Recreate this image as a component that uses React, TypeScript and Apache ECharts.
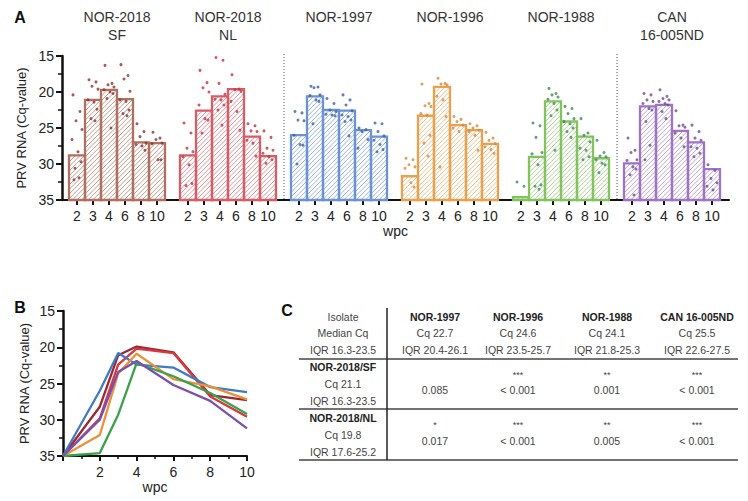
import React, { useEffect, useRef } from 'react';
import * as echarts from 'echarts';

// ---------- data ----------
const wpcLabels = ['2', '3', '4', '6', '8', '10'];
const isolateTitles = ['NOR-2018\nSF', 'NOR-2018\nNL', 'NOR-1997', 'NOR-1996', 'NOR-1988', 'CAN\n16-005ND'];

// median Cq per wpc (bars, panel A)
const barSF = [28.8, 21.1, 19.7, 21.0, 27.0, 27.1];
const barNL = [28.8, 22.6, 20.6, 19.6, 26.2, 28.9];
const bar1997 = [26.0, 20.6, 22.5, 22.6, 25.3, 26.2];
const bar1996 = [31.7, 23.3, 19.3, 24.6, 25.3, 27.2];
const bar1988 = [34.6, 29.0, 21.3, 24.1, 26.2, 29.2];
const barCAN = [29.9, 22.0, 21.8, 25.4, 27.0, 30.7];

// individual fish Cq values per wpc (dots, panel A)
const dotsSF = [
  [20.4, 22.7, 24.0, 25.2, 26.6, 28.3, 29.7, 30.6, 31.9, 32.2],
  [18.3, 18.6, 19.2, 19.6, 21.1, 21.4, 22.4, 23.7, 24.0],
  [16.3, 18.8, 19.0, 19.3, 19.7, 20.0, 20.2, 20.9, 25.0],
  [16.2, 17.7, 18.2, 19.9, 21.1, 21.3, 22.5, 23.0, 23.3],
  [24.4, 25.5, 26.2, 27.1, 27.3, 27.5, 28.1],
  [25.6, 26.4, 26.6, 27.1, 27.2, 29.4, 29.4],
];
const dotsNL = [
  [24.3, 25.7, 27.8, 28.3, 29.0, 30.1, 32.7, 33.0],
  [17.0, 18.7, 19.4, 20.0, 21.8, 23.7, 23.9, 25.7],
  [15.2, 15.6, 18.8, 20.3, 21.0, 21.1, 21.8, 22.5, 24.6],
  [17.6, 19.6, 19.7, 19.9, 21.3, 22.7, 25.3],
  [24.4, 24.7, 25.4, 25.5, 26.7, 27.1, 28.9],
  [25.4, 26.3, 27.8, 28.1, 28.5, 29.0, 29.4, 29.9],
];
const dots1997 = [
  [22.7, 22.9, 23.9, 24.0, 26.0, 27.3, 27.4, 30.0],
  [19.2, 19.3, 19.4, 20.4, 20.5, 21.1, 21.3, 24.4],
  [20.9, 21.6, 22.5, 22.7, 23.1, 23.2, 23.3],
  [20.4, 21.1, 21.8, 22.6, 23.2, 23.4, 23.9, 24.1, 26.1],
  [25.0, 25.2, 25.5, 26.6, 27.8],
  [24.3, 24.4, 25.5, 26.1, 26.7, 27.3, 28.0, 28.3],
];
const dots1996 = [
  [29.2, 29.4, 30.1, 30.4, 30.6, 32.6, 33.2],
  [18.9, 21.6, 21.9, 22.0, 23.0, 23.2, 26.0, 27.1, 28.9],
  [18.1, 18.8, 18.9, 19.0, 20.6, 21.1, 23.4, 30.4],
  [23.4, 23.8, 24.1, 24.6, 25.0, 25.5],
  [24.4, 24.7, 25.0, 25.3, 25.5, 26.0, 28.1],
  [25.6, 26.4, 26.7, 27.2, 27.6, 28.0, 28.5],
];
const dots1988 = [
  [32.5, 33.1],
  [24.3, 24.7, 26.3, 28.4, 28.6, 30.1, 32.9, 33.1, 33.5],
  [19.5, 20.2, 20.4, 20.7, 21.0, 21.6, 22.5, 23.3, 28.1],
  [22.0, 22.3, 23.0, 23.7, 24.1, 24.4, 25.0, 25.5, 26.3],
  [23.7, 25.7, 26.0, 26.9, 27.8, 28.1, 29.0, 29.4],
  [26.7, 28.4, 28.9, 29.0, 29.4, 29.9, 30.1, 31.2],
];
const dotsCAN = [
  [26.4, 28.1, 28.4, 29.4, 29.5, 30.4, 30.7, 31.5, 34.3],
  [20.2, 20.4, 21.1, 21.3, 21.6, 22.3, 22.5, 24.1, 27.4, 29.4],
  [19.7, 20.6, 20.9, 21.1, 21.3, 21.6, 21.8, 22.7, 23.7],
  [22.6, 24.6, 24.7, 24.9, 25.7, 26.4, 27.6],
  [24.6, 25.5, 26.4, 26.7, 27.6, 27.8, 28.5, 29.0],
  [30.1, 30.9, 32.0, 32.6, 33.1, 33.6],
];

// panel B lines
const wpcB = [0, 2, 3, 4, 6, 8, 10];
const lineSF = [35, 28.2, 21.1, 19.9, 20.7, 26.6, 27.3];
const lineNL = [35, 29.8, 22.4, 20.2, 20.8, 26.8, 29.6];
const line1997 = [35, 26.0, 20.8, 22.4, 22.8, 25.5, 26.2];
const line1996 = [35, 32.1, 23.6, 20.9, 24.4, 25.4, 27.2];
const line1988 = [35, 34.6, 29.3, 22.2, 24.0, 26.3, 29.2];
const lineCAN = [35, 30.0, 23.4, 21.9, 25.2, 27.4, 31.2];
const lineNames = ['NOR-2018/SF', 'NOR-2018/NL', 'NOR-1997', 'NOR-1996', 'NOR-1988', 'CAN 16-005ND'];

// panel C table
const tableHeader = ['Isolate', 'NOR-1997', 'NOR-1996', 'NOR-1988', 'CAN 16-005ND'];
const tableMedian = ['Median Cq', 'Cq 22.7', 'Cq 24.6', 'Cq 24.1', 'Cq 25.5'];
const tableIQR = ['IQR 16.3-23.5', 'IQR 20.4-26.1', 'IQR 23.5-25.7', 'IQR 21.8-25.3', 'IQR 22.6-27.5'];
const rowSF = ['NOR-2018/SF', 'Cq 21.1', 'IQR 16.3-23.5'];
const starsSF = ['', '***', '**', '***'];
const pSF = ['0.085', '< 0.001', '0.001', '< 0.001'];
const rowNL = ['NOR-2018/NL', 'Cq 19.8', 'IQR 17.6-25.2'];
const starsNL = ['*', '***', '**', '***'];
const pNL = ['0.017', '< 0.001', '0.005', '< 0.001'];

// ---------- styling ----------
const FONT = 'Arial, "Liberation Sans", Helvetica, sans-serif';
const TXT = '#222';
const barColors = ['#b0705f', '#d85c66', '#6b93d4', '#eba04d', '#82c35d', '#9f73c3'];
const hatchColors = ['#c99a8d', '#e6929a', '#9bb6e3', '#f2c18a', '#abd793', '#c2a3da'];
const dotColors = ['#8e2f2f', '#c4303c', '#3c5ea8', '#d9863a', '#3d8a50', '#6a4b9c'];
const lineColors = ['#9b2733', '#da363f', '#3d7bc4', '#ea913a', '#37a24c', '#7a4faf'];
const jitter = [-4, 3, -1, 5, -5, 1, 4, -2, 2, -3, 0];

const Y_MIN = 15;
const Y_MAX = 35;
const A_TOP = 56;
const A_H = 144;
const G_LEFT0 = 69;
const G_STEP = 111;
const G_W = 96;

const bars = [barSF, barNL, bar1997, bar1996, bar1988, barCAN];
const dots = [dotsSF, dotsNL, dots1997, dots1996, dots1988, dotsCAN];
const lines = [lineSF, lineNL, line1997, line1996, line1988, lineCAN];

function makeBarRenderer(g: number) {
  return (params: any, api: any) => {
    const idx = api.value(0);
    const v = api.value(1);
    const top = api.coord([idx, v]);
    const base = api.coord([idx, Y_MAX]);
    const bw = api.size([1, 0])[0];
    const x0 = top[0] - bw / 2;
    const x1 = top[0] + bw / 2;
    const y0 = Math.min(top[1], base[1]);
    const y1 = Math.max(top[1], base[1]);
    const children: any[] = [];
    const sp = 4.6;
    for (let c = x0 + y0 + 2; c < x1 + y1; c += sp) {
      const xa = Math.max(x0, c - y1);
      const xb = Math.min(x1, c - y0);
      if (xb > xa + 0.3) {
        children.push({
          type: 'line',
          shape: { x1: xa, y1: c - xa, x2: xb, y2: c - xb },
          style: { stroke: hatchColors[g], lineWidth: 1 },
        });
      }
    }
    children.push({
      type: 'rect',
      shape: { x: x0, y: y0, width: x1 - x0, height: y1 - y0 },
      style: { fill: 'none', stroke: barColors[g], lineWidth: 2.3 },
    });
    return { type: 'group', children };
  };
}

function text(x: number, y: number, t: string, opts: any = {}) {
  return {
    type: 'text',
    x,
    y,
    silent: true,
    style: {
      text: t,
      fill: opts.fill || '#333',
      fontSize: opts.fontSize || 10.5,
      fontWeight: opts.fontWeight || 'normal',
      fontFamily: FONT,
      align: opts.align || 'center',
      verticalAlign: opts.verticalAlign || 'middle',
      lineHeight: opts.lineHeight,
    },
  };
}

function hline(x1: number, x2: number, y: number, color = '#444', w = 1.5) {
  return { type: 'line', silent: true, shape: { x1, y1: y, x2, y2: y }, style: { stroke: color, lineWidth: w } };
}

function buildOption(): any {
  const grid: any[] = [{ left: 62, width: 667, top: A_TOP, height: A_H }];
  const xAxis: any[] = [
    {
      gridIndex: 0,
      type: 'value',
      min: 0,
      max: 1,
      axisLine: { show: true, onZero: false, lineStyle: { color: '#111', width: 2 } },
      axisTick: { show: false },
      axisLabel: { show: false },
      splitLine: { show: false },
      name: 'wpc',
      nameLocation: 'middle',
      nameGap: 24,
      nameTextStyle: { fontSize: 14, color: TXT, fontFamily: FONT },
    },
  ];
  const yCommon = {
    type: 'value',
    inverse: true,
    min: Y_MIN,
    max: Y_MAX,
    interval: 5,
    axisLine: { show: true, lineStyle: { color: '#111', width: 2.5 } },
    axisTick: { show: true, length: 6, lineStyle: { color: '#111', width: 2 } },
    minorTick: { show: true, splitNumber: 2, length: 4, lineStyle: { color: '#111', width: 1.5 } },
    splitLine: { show: false },
    minorSplitLine: { show: false },
    axisLabel: { fontSize: 14, color: TXT, margin: 8, fontFamily: FONT },
    name: 'PRV RNA (Cq-value)',
    nameLocation: 'middle',
    nameGap: 31,
    nameTextStyle: { fontSize: 13, color: TXT, fontFamily: FONT },
  };
  const yAxis: any[] = [{ gridIndex: 0, ...yCommon }];
  const series: any[] = [];

  for (let g = 0; g < 6; g++) {
    grid.push({ left: G_LEFT0 + g * G_STEP, width: G_W, top: A_TOP, height: A_H });
    xAxis.push({
      gridIndex: g + 1,
      type: 'category',
      data: wpcLabels,
      boundaryGap: true,
      axisLine: { show: false },
      axisTick: { show: true, alignWithLabel: true, length: 5, lineStyle: { color: '#111', width: 2 } },
      axisLabel: { interval: 0, fontSize: 14, color: TXT, margin: 9, fontFamily: FONT },
      splitLine: { show: false },
    });
    yAxis.push({ gridIndex: g + 1, type: 'value', inverse: true, min: Y_MIN, max: Y_MAX, show: false });
    series.push({
      type: 'custom',
      name: isolateTitles[g].replace('\n', ' '),
      xAxisIndex: g + 1,
      yAxisIndex: g + 1,
      data: bars[g].map((v, i) => [i, v]),
      encode: { x: 0, y: 1 },
      renderItem: makeBarRenderer(g),
      z: 2,
      silent: true,
    });
    const dotData: any[] = [];
    dots[g].forEach((arr, i) => {
      arr.forEach((v, k) => {
        dotData.push({ value: [i, v], symbolOffset: [jitter[k % jitter.length], 0] });
      });
    });
    series.push({
      type: 'scatter',
      xAxisIndex: g + 1,
      yAxisIndex: g + 1,
      data: dotData,
      symbol: 'circle',
      symbolSize: 3,
      itemStyle: { color: dotColors[g] },
      z: 3,
      silent: true,
    });
  }

  // panel B
  grid.push({ left: 63, width: 184, top: 311, height: 145 });
  xAxis.push({
    gridIndex: 7,
    type: 'value',
    min: 0,
    max: 10,
    interval: 2,
    axisLine: { show: true, onZero: false, lineStyle: { color: '#111', width: 2 } },
    axisTick: { show: true, length: 5, lineStyle: { color: '#111', width: 2 } },
    minorTick: { show: true, splitNumber: 2, length: 3, lineStyle: { color: '#111', width: 1.5 } },
    splitLine: { show: false },
    minorSplitLine: { show: false },
    axisLabel: {
      fontSize: 14,
      color: TXT,
      margin: 9,
      fontFamily: FONT,
      formatter: (v: number) => (v === 0 ? '' : String(v)),
    },
    name: 'wpc',
    nameLocation: 'middle',
    nameGap: 24,
    nameTextStyle: { fontSize: 14, color: TXT, fontFamily: FONT },
  });
  yAxis.push({ gridIndex: 7, ...yCommon, nameGap: 32 });
  lines.forEach((arr, g) => {
    series.push({
      type: 'line',
      name: lineNames[g],
      xAxisIndex: 7,
      yAxisIndex: 7,
      data: wpcB.map((w, i) => [w, arr[i]]),
      showSymbol: false,
      symbol: 'none',
      lineStyle: { color: lineColors[g], width: 2.3 },
      itemStyle: { color: lineColors[g] },
      z: 3 + g,
      silent: true,
    });
  });

  // graphics
  const graphic: any[] = [];
  graphic.push(text(20, 17, 'A', { fontSize: 16, fontWeight: 'bold', fill: '#111' }));
  graphic.push(text(20, 307, 'B', { fontSize: 16, fontWeight: 'bold', fill: '#111' }));
  graphic.push(text(287, 310, 'C', { fontSize: 16, fontWeight: 'bold', fill: '#111' }));
  isolateTitles.forEach((t, g) => {
    graphic.push(
      text(G_LEFT0 + g * G_STEP + G_W / 2, 8, t, {
        fontSize: 14,
        fill: '#333',
        verticalAlign: 'top',
        lineHeight: 18,
      })
    );
  });
  [284, 617].forEach((x) => {
    graphic.push({
      type: 'line',
      silent: true,
      shape: { x1: x, y1: 54, x2: x, y2: 199 },
      style: { stroke: '#555', lineWidth: 1, lineDash: [1, 2] },
    });
  });

  // table
  const colX = [343, 435, 518, 607, 697];
  const headY = [316.7, 333.3, 350];
  tableHeader.forEach((t, i) =>
    graphic.push(text(colX[i], headY[0], t, { fontWeight: i === 0 ? 'normal' : 'bold', fill: i === 0 ? '#444' : '#222' }))
  );
  tableMedian.forEach((t, i) => graphic.push(text(colX[i], headY[1], t, { fill: '#444' })));
  tableIQR.forEach((t, i) => graphic.push(text(colX[i], headY[2], t, { fill: '#444' })));
  const rowY1 = [366.7, 384, 401];
  const rowY2 = [417.7, 435, 451.7];
  rowSF.forEach((t, i) => graphic.push(text(colX[0], rowY1[i], t, { fontWeight: i === 0 ? 'bold' : 'normal', fill: i === 0 ? '#222' : '#444' })));
  rowNL.forEach((t, i) => graphic.push(text(colX[0], rowY2[i], t, { fontWeight: i === 0 ? 'bold' : 'normal', fill: i === 0 ? '#222' : '#444' })));
  starsSF.forEach((t, i) => t && graphic.push(text(colX[i + 1], 375, t, { fontSize: 9, fill: '#444' })));
  pSF.forEach((t, i) => graphic.push(text(colX[i + 1], 390, t, { fill: '#444' })));
  starsNL.forEach((t, i) => t && graphic.push(text(colX[i + 1], 425, t, { fontSize: 9, fill: '#444' })));
  pNL.forEach((t, i) => graphic.push(text(colX[i + 1], 440.7, t, { fill: '#444' })));
  graphic.push(hline(299, 738, 359, '#444', 1.5));
  graphic.push(hline(299, 738, 409, '#444', 1.5));
  graphic.push(hline(299, 738, 460, '#444', 1.5));
  graphic.push({
    type: 'line',
    silent: true,
    shape: { x1: 387, y1: 308, x2: 387, y2: 460 },
    style: { stroke: '#222', lineWidth: 1.5 },
  });

  return {
    animation: false,
    backgroundColor: '#ffffff',
    textStyle: { fontFamily: FONT },
    grid,
    xAxis,
    yAxis,
    series,
    graphic,
  };
}

export default function App() {
  const ref = useRef<HTMLDivElement>(null);
  useEffect(() => {
    document.body.style.margin = '0';
    const chart = echarts.init(ref.current as HTMLDivElement, null, { renderer: 'svg' });
    chart.setOption(buildOption());
    return () => {
      chart.dispose();
    };
  }, []);
  return <div ref={ref} style={{ width: 748, height: 501, background: '#fff' }} />;
}
